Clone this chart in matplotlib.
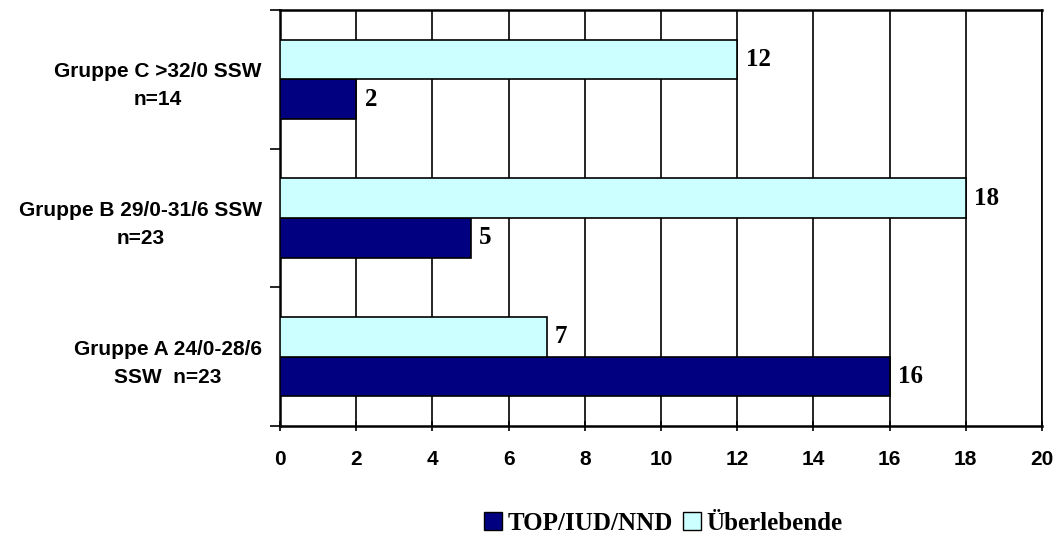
import matplotlib
matplotlib.use("Agg")
import matplotlib.pyplot as plt
from matplotlib.patches import Patch
import numpy as np

categories = ["Gruppe A 24/0-28/6\nSSW  n=23", "Gruppe B 29/0-31/6 SSW\nn=23", "Gruppe C >32/0 SSW\nn=14"]
top_iud_nnd = [16, 5, 2]
ueberlebende = [7, 18, 12]
series_names = ["TOP/IUD/NND", "Überlebende"]
xticks = list(range(0, 21, 2))

fig = plt.figure(figsize=(10.56, 5.38), dpi=100)
ax = fig.add_axes([280/1056, 1-426/538, 762/1056, 416/538])

y = np.arange(len(categories))
h = 0.286
dark = "#000080"
light = "#CCFFFF"
ax.barh(y - h/2, top_iud_nnd, height=h, color=dark, edgecolor="black", linewidth=1.2, zorder=3)
ax.barh(y + h/2, ueberlebende, height=h, color=light, edgecolor="black", linewidth=1.2, zorder=3)

for yi, v in zip(y, top_iud_nnd):
    ax.text(v + 0.22, yi - h/2, str(v), va="center", ha="left", fontsize=18,
            fontweight="bold", family="Liberation Serif")
for yi, v in zip(y, ueberlebende):
    ax.text(v + 0.22, yi + h/2, str(v), va="center", ha="left", fontsize=18,
            fontweight="bold", family="Liberation Serif")

ax.set_xlim(0, 20)
ax.set_ylim(-0.5, 2.5)
ax.set_xticks(xticks)
ax.set_xticklabels([str(t) for t in xticks], fontsize=15, fontweight="bold", family="Liberation Sans")
ax.xaxis.grid(True, color="black", linewidth=1.2, zorder=0)
ax.set_axisbelow(True)

ax.set_yticks([-0.5, 0.5, 1.5, 2.5])
ax.set_yticklabels([])
ax.set_yticks(y, minor=True)
ax.set_yticklabels(categories, minor=True, fontsize=15, fontweight="bold",
                   family="Liberation Sans", multialignment="center", linespacing=1.6)
ax.tick_params(axis="y", which="minor", length=0, pad=13)
ax.tick_params(axis="y", which="major", length=7, width=1.2, direction="out")
ax.tick_params(axis="x", which="major", length=7, width=1.2, direction="inout", pad=14)

for s in ["left", "bottom", "top"]:
    ax.spines[s].set_linewidth(1.8)
ax.spines["right"].set_linewidth(1.2)

handles = [Patch(facecolor=dark, edgecolor="black", label=series_names[0]),
           Patch(facecolor=light, edgecolor="black", label=series_names[1])]
fig.legend(handles=handles, loc="center", bbox_to_anchor=(663/1056, 1-523/538), ncol=2,
           frameon=False, prop={"family": "Liberation Serif", "weight": "bold", "size": 18},
           handlelength=0.75, handleheight=0.75, handletextpad=0.2, columnspacing=0.4,
           borderpad=0.1)

fig.savefig("out.png", dpi=100, facecolor="white")
